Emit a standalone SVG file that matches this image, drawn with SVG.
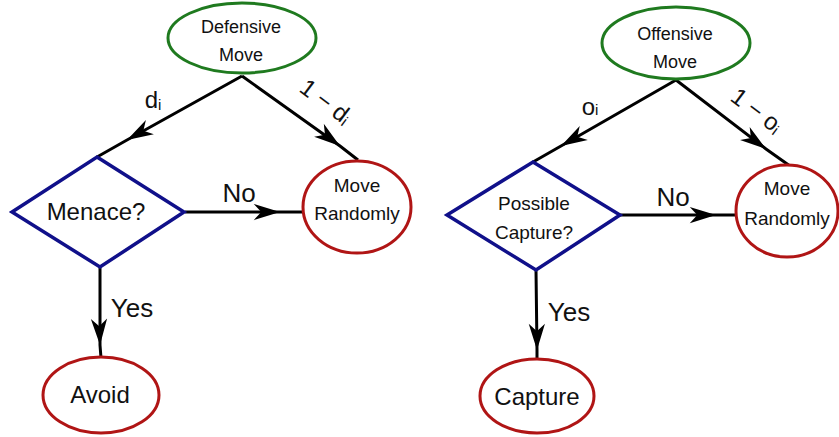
<svg xmlns="http://www.w3.org/2000/svg" width="839" height="437" viewBox="0 0 839 437">
<style>
.start{fill:#fff;stroke:#1f7a1f;stroke-width:3}
.act{fill:#fff;stroke:#b01515;stroke-width:3}
.dec{fill:#fff;stroke:#10108a;stroke-width:3.5;stroke-linejoin:miter}
.edge{fill:none;stroke:#000;stroke-width:3;marker-mid:url(#ah)}
text{font-family:"Liberation Sans",Arial,sans-serif;fill:#111;text-anchor:middle}
.n{font-size:18px}
.m{font-size:19px}
.big{font-size:24px}
.lab{font-size:26px}
.sym{font-size:24px}
</style>
<defs>
<marker id="ah" markerUnits="userSpaceOnUse" markerWidth="30" markerHeight="20" viewBox="-22 -8 24 16" refX="0" refY="0" orient="auto">
<path d="M0,0 L-21,-6.5 L-15,0 L-21,6.5 Z" fill="#000"/>
</marker>
</defs>
<g id="connectors">
<path class="edge" d="M242,76 L127,140 L97,157"/>
<path class="edge" d="M242,76 L340,146 L358,160"/>
<path class="edge" d="M185,212 L280,212 L304,212"/>
<path class="edge" d="M100,267 L100,345 L101,358"/>
<path class="edge" d="M676,80 L561,146 L533,162"/>
<path class="edge" d="M676,80 L766,149 L790,166"/>
<path class="edge" d="M620,215 L716,215 L737,215"/>
<path class="edge" d="M536,270 L537,350 L537,362"/>
<text class="sym" x="153" y="108">d<tspan font-size="15" dy="2">i</tspan></text>
<text class="sym" transform="translate(321,108) rotate(37)">1 − d<tspan font-size="15" dy="2">i</tspan></text>
<text class="lab" x="239" y="202">No</text>
<text class="lab" x="132" y="317">Yes</text>
<text class="sym" x="590" y="115">o<tspan font-size="15">i</tspan></text>
<text class="sym" transform="translate(752,117) rotate(37)">1 − o<tspan font-size="15" dy="2">i</tspan></text>
<text class="lab" x="673" y="206">No</text>
<text class="lab" x="569" y="321">Yes</text>
</g>
<g id="defensive">
<ellipse class="start" cx="242" cy="38" rx="74" ry="35"/>
<text class="n" x="241" y="33">Defensive</text>
<text class="n" x="241" y="61">Move</text>
</g>
<g id="menace">
<polygon class="dec" points="97,157 184,212 100,267 12,212"/>
<text class="big" x="96" y="220">Menace?</text>
</g>
<g id="move-randomly-1">
<ellipse class="act" cx="357" cy="207" rx="54" ry="46"/>
<text class="m" x="357" y="192">Move</text>
<text class="m" x="357" y="220">Randomly</text>
</g>
<g id="avoid">
<ellipse class="act" cx="101" cy="395" rx="58" ry="38"/>
<text class="big" x="100" y="403">Avoid</text>
</g>
<g id="offensive">
<ellipse class="start" cx="676" cy="43" rx="74" ry="36"/>
<text class="n" x="675" y="40">Offensive</text>
<text class="n" x="675" y="68">Move</text>
</g>
<g id="possible-capture">
<polygon class="dec" points="533,162 620,215 536,270 447,215"/>
<text class="m" x="534" y="210">Possible</text>
<text class="m" x="534" y="239">Capture?</text>
</g>
<g id="move-randomly-2">
<ellipse class="act" cx="787" cy="211" rx="51" ry="46"/>
<text class="m" x="787" y="195">Move</text>
<text class="m" x="787" y="225">Randomly</text>
</g>
<g id="capture">
<ellipse class="act" cx="537" cy="396" rx="57" ry="37"/>
<text class="big" x="537" y="405">Capture</text>
</g>
</svg>
